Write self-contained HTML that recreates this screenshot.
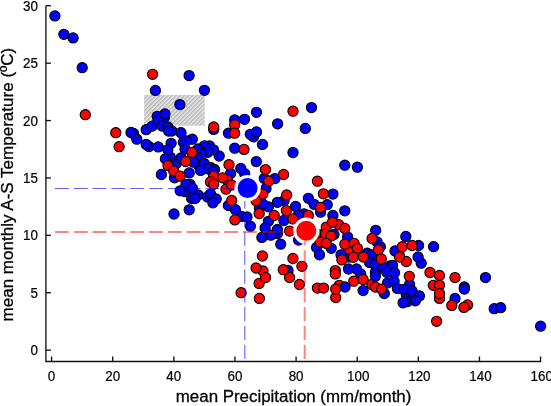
<!DOCTYPE html>
<html><head><meta charset="utf-8"><title>scatter</title>
<style>
html,body{margin:0;padding:0;background:#fff;}
svg{display:block;will-change:transform;font-family:"Liberation Sans",sans-serif;}
.b{fill:#0000ff;stroke:#000;stroke-width:1.1;}
.r{fill:#ff0000;stroke:#000;stroke-width:1.1;}
.tk{font-size:13.4px;fill:#000;stroke:#000;stroke-width:0.2;}
.lab{font-size:16.9px;fill:#000;stroke:#000;stroke-width:0.3;}
.ax line,.ax polyline{stroke:#111;stroke-width:1.35;fill:none;}
</style></head><body>
<svg width="551" height="406" viewBox="0 0 551 406">
<defs>
<pattern id="h" width="2.9" height="2.9" patternUnits="userSpaceOnUse" patternTransform="rotate(-45)">
<rect width="2.9" height="2.9" fill="#e9e9e9"/><rect width="2.9" height="1.45" fill="#b6b6b6"/>
</pattern>
</defs>
<rect width="551" height="406" fill="#fff"/>
<rect x="144.1" y="95" width="60.6" height="30.7" fill="url(#h)"/>
<g class="ax">
<polyline points="45.9,5.7 45.9,361.5 541.2,361.5"/>
<line x1="51.60" y1="361.5" x2="51.60" y2="356.50"/>
<line x1="112.72" y1="361.5" x2="112.72" y2="356.50"/>
<line x1="173.84" y1="361.5" x2="173.84" y2="356.50"/>
<line x1="234.96" y1="361.5" x2="234.96" y2="356.50"/>
<line x1="296.08" y1="361.5" x2="296.08" y2="356.50"/>
<line x1="357.20" y1="361.5" x2="357.20" y2="356.50"/>
<line x1="418.32" y1="361.5" x2="418.32" y2="356.50"/>
<line x1="479.44" y1="361.5" x2="479.44" y2="356.50"/>
<line x1="540.56" y1="361.5" x2="540.56" y2="356.50"/>
<line x1="45.9" y1="350.15" x2="50.90" y2="350.15"/>
<line x1="45.9" y1="292.75" x2="50.90" y2="292.75"/>
<line x1="45.9" y1="235.35" x2="50.90" y2="235.35"/>
<line x1="45.9" y1="177.95" x2="50.90" y2="177.95"/>
<line x1="45.9" y1="120.55" x2="50.90" y2="120.55"/>
<line x1="45.9" y1="63.15" x2="50.90" y2="63.15"/>
<line x1="45.9" y1="5.75" x2="50.90" y2="5.75"/>
</g>
<g>
<circle class="b" cx="133.5" cy="133.5" r="5.1"/>
<circle class="b" cx="149.0" cy="146.6" r="5.1"/>
<circle class="b" cx="157.2" cy="116.3" r="5.1"/>
<circle class="b" cx="164.5" cy="117.2" r="5.1"/>
<circle class="b" cx="234.7" cy="119.9" r="5.1"/>
<circle class="b" cx="213.7" cy="129.4" r="5.1"/>
<circle class="b" cx="253.5" cy="136.8" r="5.1"/>
<circle class="b" cx="209.4" cy="145.8" r="5.1"/>
<circle class="b" cx="210.5" cy="167.5" r="5.1"/>
<circle class="b" cx="199.0" cy="166.0" r="5.1"/>
<circle class="b" cx="174.5" cy="177.8" r="5.1"/>
<circle class="b" cx="190.0" cy="184.3" r="5.1"/>
<circle class="b" cx="184.8" cy="191.5" r="5.1"/>
<circle class="b" cx="230.5" cy="173.5" r="5.1"/>
<circle class="b" cx="244.7" cy="173.7" r="5.1"/>
<circle class="b" cx="264.3" cy="178.6" r="5.1"/>
<circle class="b" cx="304.0" cy="213.8" r="5.1"/>
<circle class="b" cx="298.3" cy="215.3" r="5.1"/>
<circle class="b" cx="320.6" cy="212.2" r="5.1"/>
<circle class="b" cx="241.4" cy="216.4" r="5.1"/>
<circle class="b" cx="259.4" cy="208.3" r="5.1"/>
<circle class="b" cx="277.4" cy="233.6" r="5.1"/>
<circle class="b" cx="270.8" cy="235.2" r="5.1"/>
<circle class="b" cx="298.6" cy="240.1" r="5.1"/>
<circle class="r" cx="263.0" cy="271.0" r="5.1"/>
<circle class="b" cx="288.0" cy="270.5" r="5.1"/>
<circle class="r" cx="338.6" cy="224.6" r="5.1"/>
<circle class="b" cx="334.0" cy="234.5" r="5.1"/>
<circle class="r" cx="319.8" cy="234.6" r="5.1"/>
<circle class="r" cx="322.6" cy="235.4" r="5.1"/>
<circle class="b" cx="331.2" cy="248.3" r="5.1"/>
<circle class="b" cx="349.0" cy="257.0" r="5.1"/>
<circle class="b" cx="377.0" cy="241.8" r="5.1"/>
<circle class="b" cx="380.3" cy="246.7" r="5.1"/>
<circle class="b" cx="418.6" cy="245.5" r="5.1"/>
<circle class="b" cx="399.0" cy="254.0" r="5.1"/>
<circle class="r" cx="339.4" cy="285.3" r="5.1"/>
<circle class="b" cx="360.7" cy="273.9" r="5.1"/>
<circle class="b" cx="375.4" cy="272.3" r="5.1"/>
<circle class="r" cx="433.3" cy="285.3" r="5.1"/>
<circle class="b" cx="464.3" cy="287.0" r="5.1"/>
<circle class="b" cx="455.0" cy="298.4" r="5.1"/>
<circle class="r" cx="467.6" cy="304.9" r="5.1"/>
<circle class="b" cx="409.6" cy="284.5" r="5.1"/>
<circle class="b" cx="406.3" cy="295.1" r="5.1"/>
<circle class="b" cx="407.2" cy="301.7" r="5.1"/>
<circle class="b" cx="494.2" cy="308.7" r="5.1"/>
<circle class="b" cx="54.9" cy="15.9" r="5.1"/>
<circle class="b" cx="63.9" cy="34.3" r="5.1"/>
<circle class="b" cx="73.1" cy="37.9" r="5.1"/>
<circle class="b" cx="82.2" cy="67.7" r="5.1"/>
<circle class="b" cx="189.1" cy="75.6" r="5.1"/>
<circle class="b" cx="155.4" cy="90.4" r="5.1"/>
<circle class="b" cx="204.4" cy="90.3" r="5.1"/>
<circle class="b" cx="179.9" cy="104.6" r="5.1"/>
<circle class="r" cx="85.3" cy="114.7" r="5.1"/>
<circle class="r" cx="152.6" cy="74.3" r="5.1"/>
<circle class="r" cx="115.8" cy="132.7" r="5.1"/>
<circle class="r" cx="119.1" cy="146.7" r="5.1"/>
<circle class="b" cx="136.8" cy="139.2" r="5.1"/>
<circle class="b" cx="146.2" cy="144.4" r="5.1"/>
<circle class="b" cx="158.3" cy="146.9" r="5.1"/>
<circle class="b" cx="146.2" cy="129.7" r="5.1"/>
<circle class="b" cx="152.3" cy="126.1" r="5.1"/>
<circle class="b" cx="158.0" cy="120.4" r="5.1"/>
<circle class="b" cx="162.1" cy="126.1" r="5.1"/>
<circle class="b" cx="167.8" cy="127.0" r="5.1"/>
<circle class="b" cx="171.9" cy="131.0" r="5.1"/>
<circle class="b" cx="181.0" cy="132.7" r="5.1"/>
<circle class="b" cx="171.1" cy="143.3" r="5.1"/>
<circle class="b" cx="183.3" cy="142.2" r="5.1"/>
<circle class="b" cx="170.3" cy="157.2" r="5.1"/>
<circle class="b" cx="165.4" cy="158.8" r="5.1"/>
<circle class="b" cx="176.0" cy="163.7" r="5.1"/>
<circle class="b" cx="185.0" cy="149.0" r="5.1"/>
<circle class="b" cx="256.5" cy="112.3" r="5.1"/>
<circle class="b" cx="244.5" cy="119.3" r="5.1"/>
<circle class="b" cx="228.5" cy="133.2" r="5.1"/>
<circle class="b" cx="250.3" cy="134.3" r="5.1"/>
<circle class="b" cx="262.5" cy="144.4" r="5.1"/>
<circle class="b" cx="234.7" cy="148.2" r="5.1"/>
<circle class="b" cx="256.3" cy="161.6" r="5.1"/>
<circle class="r" cx="229.0" cy="164.7" r="5.1"/>
<circle class="b" cx="240.8" cy="168.5" r="5.1"/>
<circle class="r" cx="265.5" cy="169.6" r="5.1"/>
<circle class="b" cx="219.2" cy="156.0" r="5.1"/>
<circle class="b" cx="213.5" cy="149.8" r="5.1"/>
<circle class="b" cx="204.5" cy="145.8" r="5.1"/>
<circle class="b" cx="207.8" cy="152.3" r="5.1"/>
<circle class="b" cx="192.3" cy="139.2" r="5.1"/>
<circle class="b" cx="186.5" cy="140.8" r="5.1"/>
<circle class="b" cx="198.0" cy="149.0" r="5.1"/>
<circle class="b" cx="201.2" cy="153.9" r="5.1"/>
<circle class="b" cx="196.3" cy="157.2" r="5.1"/>
<circle class="b" cx="193.5" cy="162.2" r="5.1"/>
<circle class="b" cx="204.2" cy="163.5" r="5.1"/>
<circle class="b" cx="181.0" cy="158.0" r="5.1"/>
<circle class="b" cx="214.5" cy="169.5" r="5.1"/>
<circle class="b" cx="311.5" cy="107.6" r="5.1"/>
<circle class="r" cx="293.0" cy="111.2" r="5.1"/>
<circle class="b" cx="277.6" cy="123.8" r="5.1"/>
<circle class="b" cx="305.3" cy="128.4" r="5.1"/>
<circle class="b" cx="293.0" cy="152.6" r="5.1"/>
<circle class="b" cx="161.4" cy="174.5" r="5.1"/>
<circle class="b" cx="189.2" cy="172.9" r="5.1"/>
<circle class="b" cx="207.2" cy="168.8" r="5.1"/>
<circle class="b" cx="200.6" cy="170.4" r="5.1"/>
<circle class="b" cx="212.9" cy="172.0" r="5.1"/>
<circle class="b" cx="186.0" cy="184.3" r="5.1"/>
<circle class="b" cx="180.2" cy="190.8" r="5.1"/>
<circle class="b" cx="192.5" cy="188.4" r="5.1"/>
<circle class="b" cx="198.2" cy="195.0" r="5.1"/>
<circle class="b" cx="191.7" cy="198.5" r="5.1"/>
<circle class="b" cx="195.0" cy="198.5" r="5.1"/>
<circle class="b" cx="189.2" cy="209.8" r="5.1"/>
<circle class="b" cx="174.0" cy="214.0" r="5.1"/>
<circle class="b" cx="207.5" cy="197.0" r="5.1"/>
<circle class="b" cx="210.5" cy="194.1" r="5.1"/>
<circle class="b" cx="216.2" cy="199.0" r="5.1"/>
<circle class="b" cx="212.9" cy="202.8" r="5.1"/>
<circle class="b" cx="228.4" cy="205.5" r="5.1"/>
<circle class="b" cx="235.4" cy="209.7" r="5.1"/>
<circle class="r" cx="213.7" cy="176.1" r="5.1"/>
<circle class="r" cx="227.6" cy="180.2" r="5.1"/>
<circle class="b" cx="275.0" cy="178.6" r="5.1"/>
<circle class="r" cx="283.6" cy="174.5" r="5.1"/>
<circle class="r" cx="317.4" cy="181.2" r="5.1"/>
<circle class="b" cx="266.0" cy="188.4" r="5.1"/>
<circle class="b" cx="284.0" cy="200.7" r="5.1"/>
<circle class="b" cx="277.4" cy="202.3" r="5.1"/>
<circle class="b" cx="268.4" cy="206.8" r="5.1"/>
<circle class="b" cx="262.7" cy="204.0" r="5.1"/>
<circle class="b" cx="295.6" cy="206.4" r="5.1"/>
<circle class="b" cx="308.4" cy="198.3" r="5.1"/>
<circle class="b" cx="314.0" cy="204.3" r="5.1"/>
<circle class="b" cx="247.0" cy="217.0" r="5.1"/>
<circle class="b" cx="344.8" cy="165.2" r="5.1"/>
<circle class="b" cx="357.4" cy="167.2" r="5.1"/>
<circle class="b" cx="332.9" cy="194.1" r="5.1"/>
<circle class="b" cx="327.2" cy="204.7" r="5.1"/>
<circle class="b" cx="344.8" cy="210.8" r="5.1"/>
<circle class="b" cx="332.9" cy="215.5" r="5.1"/>
<circle class="b" cx="250.4" cy="226.2" r="5.1"/>
<circle class="b" cx="268.4" cy="221.3" r="5.1"/>
<circle class="b" cx="265.1" cy="227.9" r="5.1"/>
<circle class="b" cx="283.9" cy="220.5" r="5.1"/>
<circle class="b" cx="277.4" cy="229.5" r="5.1"/>
<circle class="b" cx="261.9" cy="237.4" r="5.1"/>
<circle class="r" cx="289.6" cy="231.1" r="5.1"/>
<circle class="b" cx="280.7" cy="244.2" r="5.1"/>
<circle class="r" cx="262.4" cy="256.0" r="5.1"/>
<circle class="r" cx="292.9" cy="258.5" r="5.1"/>
<circle class="r" cx="301.9" cy="266.3" r="5.1"/>
<circle class="r" cx="256.1" cy="268.0" r="5.1"/>
<circle class="b" cx="316.6" cy="247.5" r="5.1"/>
<circle class="b" cx="319.5" cy="254.8" r="5.1"/>
<circle class="r" cx="326.3" cy="227.1" r="5.1"/>
<circle class="r" cx="325.5" cy="234.4" r="5.1"/>
<circle class="b" cx="347.6" cy="236.9" r="5.1"/>
<circle class="r" cx="348.4" cy="249.1" r="5.1"/>
<circle class="b" cx="341.0" cy="254.8" r="5.1"/>
<circle class="b" cx="367.2" cy="253.2" r="5.1"/>
<circle class="b" cx="371.3" cy="254.8" r="5.1"/>
<circle class="b" cx="369.6" cy="262.5" r="5.1"/>
<circle class="b" cx="375.4" cy="264.4" r="5.1"/>
<circle class="b" cx="375.7" cy="230.3" r="5.1"/>
<circle class="b" cx="395.0" cy="250.9" r="5.1"/>
<circle class="b" cx="390.0" cy="266.0" r="5.1"/>
<circle class="b" cx="383.0" cy="268.0" r="5.1"/>
<circle class="b" cx="356.5" cy="269.0" r="5.1"/>
<circle class="b" cx="348.5" cy="269.0" r="5.1"/>
<circle class="r" cx="335.3" cy="270.6" r="5.1"/>
<circle class="b" cx="405.8" cy="236.4" r="5.1"/>
<circle class="b" cx="433.6" cy="246.7" r="5.1"/>
<circle class="r" cx="406.3" cy="261.5" r="5.1"/>
<circle class="b" cx="421.2" cy="263.2" r="5.1"/>
<circle class="b" cx="392.5" cy="265.5" r="5.1"/>
<circle class="r" cx="430.0" cy="272.5" r="5.1"/>
<circle class="r" cx="259.1" cy="283.4" r="5.1"/>
<circle class="r" cx="241.1" cy="292.7" r="5.1"/>
<circle class="r" cx="259.4" cy="298.4" r="5.1"/>
<circle class="r" cx="289.6" cy="277.6" r="5.1"/>
<circle class="r" cx="299.4" cy="284.5" r="5.1"/>
<circle class="r" cx="317.4" cy="288.1" r="5.1"/>
<circle class="r" cx="335.7" cy="297.6" r="5.1"/>
<circle class="b" cx="345.1" cy="287.0" r="5.1"/>
<circle class="r" cx="353.8" cy="281.2" r="5.1"/>
<circle class="b" cx="363.1" cy="290.6" r="5.1"/>
<circle class="r" cx="371.8" cy="284.5" r="5.1"/>
<circle class="b" cx="384.3" cy="293.5" r="5.1"/>
<circle class="b" cx="375.4" cy="276.3" r="5.1"/>
<circle class="b" cx="386.8" cy="272.3" r="5.1"/>
<circle class="b" cx="387.6" cy="282.9" r="5.1"/>
<circle class="b" cx="394.1" cy="281.2" r="5.1"/>
<circle class="r" cx="455.0" cy="277.6" r="5.1"/>
<circle class="r" cx="439.5" cy="285.3" r="5.1"/>
<circle class="r" cx="439.5" cy="298.4" r="5.1"/>
<circle class="r" cx="436.6" cy="321.3" r="5.1"/>
<circle class="b" cx="397.4" cy="288.6" r="5.1"/>
<circle class="b" cx="403.9" cy="289.4" r="5.1"/>
<circle class="b" cx="412.1" cy="291.0" r="5.1"/>
<circle class="b" cx="419.4" cy="295.9" r="5.1"/>
<circle class="b" cx="403.1" cy="302.8" r="5.1"/>
<circle class="b" cx="485.5" cy="277.6" r="5.1"/>
<circle class="b" cx="540.6" cy="326.2" r="5.1"/>
<circle class="b" cx="131.0" cy="132.5" r="5.1"/>
<circle class="b" cx="164.9" cy="113.9" r="5.1"/>
<circle class="b" cx="168.6" cy="131.0" r="5.1"/>
<circle class="b" cx="167.8" cy="149.8" r="5.1"/>
<circle class="r" cx="168.0" cy="165.5" r="5.1"/>
<circle class="r" cx="185.7" cy="161.5" r="5.1"/>
<circle class="r" cx="192.0" cy="152.4" r="5.1"/>
<circle class="r" cx="234.7" cy="124.8" r="5.1"/>
<circle class="r" cx="234.7" cy="133.2" r="5.1"/>
<circle class="r" cx="213.7" cy="127.0" r="5.1"/>
<circle class="b" cx="256.5" cy="131.9" r="5.1"/>
<circle class="r" cx="244.0" cy="149.4" r="5.1"/>
<circle class="r" cx="173.7" cy="171.0" r="5.1"/>
<circle class="r" cx="180.2" cy="176.1" r="5.1"/>
<circle class="r" cx="222.7" cy="177.8" r="5.1"/>
<circle class="r" cx="210.5" cy="181.9" r="5.1"/>
<circle class="r" cx="213.7" cy="184.3" r="5.1"/>
<circle class="r" cx="226.0" cy="189.2" r="5.1"/>
<circle class="r" cx="231.7" cy="185.1" r="5.1"/>
<circle class="r" cx="231.7" cy="200.5" r="5.1"/>
<circle class="r" cx="268.7" cy="181.0" r="5.1"/>
<circle class="r" cx="262.7" cy="194.1" r="5.1"/>
<circle class="r" cx="286.7" cy="195.0" r="5.1"/>
<circle class="r" cx="256.1" cy="200.7" r="5.1"/>
<circle class="r" cx="259.2" cy="213.6" r="5.1"/>
<circle class="r" cx="286.4" cy="210.6" r="5.1"/>
<circle class="r" cx="274.2" cy="215.5" r="5.1"/>
<circle class="r" cx="308.4" cy="215.4" r="5.1"/>
<circle class="r" cx="323.4" cy="193.8" r="5.1"/>
<circle class="r" cx="320.6" cy="207.5" r="5.1"/>
<circle class="r" cx="234.9" cy="219.9" r="5.1"/>
<circle class="r" cx="292.9" cy="218.9" r="5.1"/>
<circle class="r" cx="283.3" cy="269.7" r="5.1"/>
<circle class="r" cx="320.0" cy="242.0" r="5.1"/>
<circle class="r" cx="332.4" cy="222.2" r="5.1"/>
<circle class="r" cx="344.8" cy="228.4" r="5.1"/>
<circle class="r" cx="331.2" cy="236.0" r="5.1"/>
<circle class="r" cx="326.3" cy="243.4" r="5.1"/>
<circle class="r" cx="344.8" cy="244.2" r="5.1"/>
<circle class="r" cx="354.1" cy="243.4" r="5.1"/>
<circle class="r" cx="357.4" cy="248.3" r="5.1"/>
<circle class="r" cx="341.9" cy="259.9" r="5.1"/>
<circle class="r" cx="353.3" cy="257.3" r="5.1"/>
<circle class="r" cx="363.4" cy="257.0" r="5.1"/>
<circle class="r" cx="372.1" cy="238.5" r="5.1"/>
<circle class="r" cx="378.3" cy="249.9" r="5.1"/>
<circle class="r" cx="381.3" cy="259.0" r="5.1"/>
<circle class="r" cx="399.5" cy="257.0" r="5.1"/>
<circle class="r" cx="335.3" cy="273.9" r="5.1"/>
<circle class="b" cx="394.5" cy="272.8" r="5.1"/>
<circle class="r" cx="402.3" cy="246.7" r="5.1"/>
<circle class="r" cx="412.1" cy="245.5" r="5.1"/>
<circle class="b" cx="418.1" cy="257.0" r="5.1"/>
<circle class="r" cx="265.6" cy="277.6" r="5.1"/>
<circle class="r" cx="323.6" cy="288.1" r="5.1"/>
<circle class="r" cx="335.7" cy="289.1" r="5.1"/>
<circle class="r" cx="363.1" cy="279.6" r="5.1"/>
<circle class="r" cx="375.4" cy="287.0" r="5.1"/>
<circle class="r" cx="381.6" cy="289.1" r="5.1"/>
<circle class="r" cx="409.3" cy="276.3" r="5.1"/>
<circle class="r" cx="439.5" cy="275.5" r="5.1"/>
<circle class="r" cx="439.5" cy="293.5" r="5.1"/>
<circle class="b" cx="464.3" cy="289.1" r="5.1"/>
<circle class="r" cx="451.8" cy="305.4" r="5.1"/>
<circle class="r" cx="463.9" cy="307.4" r="5.1"/>
<circle class="b" cx="415.3" cy="300.8" r="5.1"/>
<circle class="b" cx="500.7" cy="307.7" r="5.1"/>
</g>
<g fill="none">
<line x1="55" y1="188.5" x2="232.1" y2="188.5" stroke="#0000ff" stroke-opacity="0.62" stroke-width="1.1" stroke-dasharray="13.9 4.9"/>
<line x1="244.8" y1="358.9" x2="244.8" y2="188" stroke="#0000ff" stroke-opacity="0.62" stroke-width="1.1" stroke-dasharray="14.2 4.6"/>
</g>
<circle cx="247.6" cy="188.1" r="11.6" fill="#0000ff" stroke="#fff" stroke-width="3.2"/>
<circle cx="306.3" cy="230.8" r="11.6" fill="#ff0000" stroke="#fff" stroke-width="3.2"/>
<g fill="none">
<line x1="55" y1="231.9" x2="296" y2="231.9" stroke="#ff0000" stroke-opacity="0.48" stroke-width="2" stroke-dasharray="13.9 4.9"/>
<line x1="304.7" y1="359" x2="304.7" y2="241" stroke="#ff0000" stroke-opacity="0.48" stroke-width="2" stroke-dasharray="14.3 4.6"/>
</g>
<g>
<text class="tk" transform="translate(51.6,381.1) scale(1,1.1)" text-anchor="middle">0</text>
<text class="tk" transform="translate(112.7,381.1) scale(1,1.1)" text-anchor="middle">20</text>
<text class="tk" transform="translate(173.8,381.1) scale(1,1.1)" text-anchor="middle">40</text>
<text class="tk" transform="translate(235.0,381.1) scale(1,1.1)" text-anchor="middle">60</text>
<text class="tk" transform="translate(296.1,381.1) scale(1,1.1)" text-anchor="middle">80</text>
<text class="tk" transform="translate(358.3,381.1) scale(1,1.1)" text-anchor="middle">100</text>
<text class="tk" transform="translate(419.4,381.1) scale(1,1.1)" text-anchor="middle">120</text>
<text class="tk" transform="translate(480.5,381.1) scale(1,1.1)" text-anchor="middle">140</text>
<text class="tk" transform="translate(541.7,381.1) scale(1,1.1)" text-anchor="middle">160</text>
<text class="tk" transform="translate(38,355.2) scale(1,1.1)" text-anchor="end">0</text>
<text class="tk" transform="translate(38,297.9) scale(1,1.1)" text-anchor="end">5</text>
<text class="tk" transform="translate(38,240.4) scale(1,1.1)" text-anchor="end">10</text>
<text class="tk" transform="translate(38,183.0) scale(1,1.1)" text-anchor="end">15</text>
<text class="tk" transform="translate(38,125.6) scale(1,1.1)" text-anchor="end">20</text>
<text class="tk" transform="translate(38,68.2) scale(1,1.1)" text-anchor="end">25</text>
<text class="tk" transform="translate(38,10.8) scale(1,1.1)" text-anchor="end">30</text>
</g>
<text class="lab" x="293.6" y="402.4" text-anchor="middle">mean Precipitation (mm/month)</text>
<text class="lab" style="font-size:17.05px" transform="translate(12.7,184.6) rotate(-90)" text-anchor="middle">mean monthly A-S Temperature (ºC)</text>
</svg>
</body></html>
